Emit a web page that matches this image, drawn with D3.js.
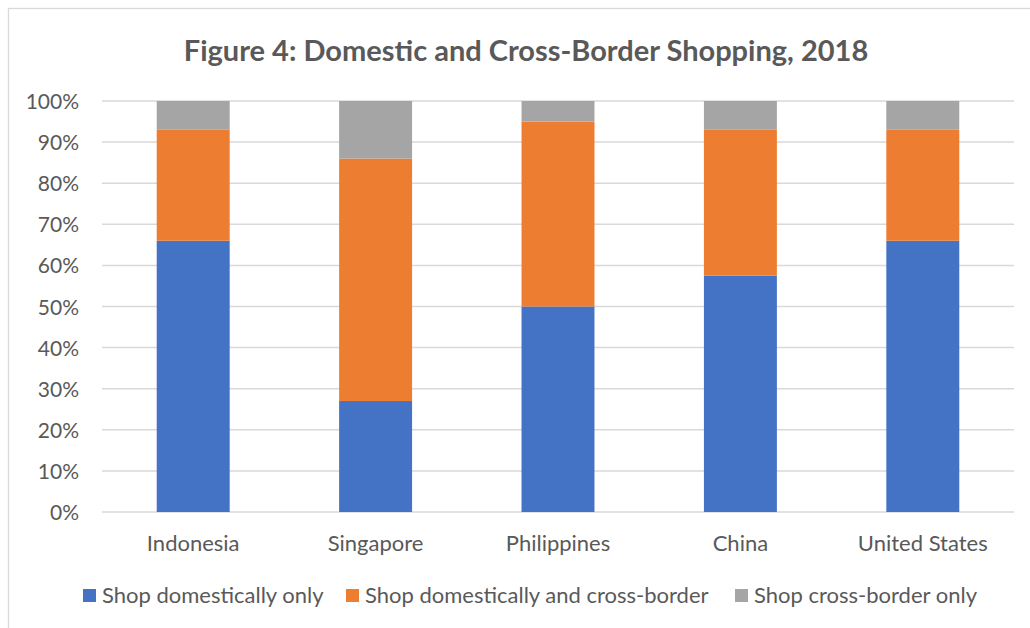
<!DOCTYPE html>
<html>
<head>
<meta charset="utf-8">
<script src="https://cdn.jsdelivr.net/npm/d3@7"></script>
<style>
  body { margin: 0; background: #fff; }
  svg { display: block; font-family: Lato, "Open Sans", sans-serif; }
</style>
</head>
<body>
<div id="chart"></div>
<script>
// data (percent of shoppers)
const categories = ["Indonesia", "Singapore", "Philippines", "China", "United States"];
const seriesNames = ["Shop domestically only", "Shop domestically and cross-border", "Shop cross-border only"];
const domesticOnly = [66, 27, 50, 57.5, 66];
const domesticAndCross = [27, 59, 45, 35.5, 27];
const crossOnly = [7, 14, 5, 7, 7];
const yTicks = [0, 10, 20, 30, 40, 50, 60, 70, 80, 90, 100];
const colors = ["#4472C4", "#ED7D31", "#A5A5A5"];

const width = 1030, height = 628;
const margin = {top: 101, right: 16, bottom: 116, left: 102};

const svg = d3.select('#chart').append('svg')
  .attr('width', width)
  .attr('height', height);

// chart border (runs off the right/bottom edge in the original)
svg.append('rect')
  .attr('x', 8.5).attr('y', 8.5)
  .attr('width', width + 20).attr('height', height + 20)
  .attr('fill', '#fff')
  .attr('stroke', '#d9d9d9')
  .attr('stroke-width', 1.3);

// title
svg.append('text')
  .attr('x', 526).attr('y', 61)
  .attr('text-anchor', 'middle')
  .attr('font-size', 29)
  .attr('font-weight', 'bold')
  .attr('fill', '#595959')
  .text('Figure 4: Domestic and Cross-Border Shopping, 2018');

const rows = categories.map((c, i) => ({
  cat: c,
  s0: domesticOnly[i],
  s1: domesticAndCross[i],
  s2: crossOnly[i]
}));
const stacked = d3.stack().keys(['s0', 's1', 's2'])(rows);

const x = d3.scaleBand()
  .domain(categories)
  .range([margin.left, width - margin.right])
  .paddingInner(0.6)
  .paddingOuter(0.3);

const y = d3.scaleLinear()
  .domain([0, 100])
  .range([height - margin.bottom, margin.top]);

// gridlines
svg.append('g')
  .selectAll('line')
  .data(yTicks)
  .join('line')
  .attr('x1', margin.left)
  .attr('x2', width - margin.right)
  .attr('y1', d => y(d))
  .attr('y2', d => y(d))
  .attr('stroke', '#d9d9d9')
  .attr('stroke-width', 1.5);

// y axis labels
const yAxis = svg.append('g')
  .attr('transform', `translate(${margin.left - 23},0)`)
  .call(d3.axisLeft(y).tickValues(yTicks).tickFormat(d => d + '%').tickSize(0).tickPadding(0));
yAxis.select('.domain').remove();
yAxis.selectAll('text')
  .attr('font-family', 'Lato, "Open Sans", sans-serif')
  .attr('font-size', 21)
  .attr('fill', '#595959')
  .attr('dy', '0.36em');

// bars
svg.append('g')
  .selectAll('g')
  .data(stacked)
  .join('g')
  .attr('fill', (d, i) => colors[i])
  .selectAll('rect')
  .data(d => d)
  .join('rect')
  .attr('x', d => x(d.data.cat))
  .attr('y', d => y(d[1]))
  .attr('height', d => y(d[0]) - y(d[1]))
  .attr('width', x.bandwidth());

// x axis labels
const xAxis = svg.append('g')
  .attr('transform', `translate(0,${height - margin.bottom})`)
  .call(d3.axisBottom(x).tickSize(0).tickPadding(0));
xAxis.select('.domain').remove();
xAxis.selectAll('text')
  .attr('font-family', 'Lato, "Open Sans", sans-serif')
  .attr('font-size', 22)
  .attr('fill', '#595959')
  .attr('y', 39)
  .attr('dy', 0);

// legend
const legend = svg.append('g');
const legendX = [83, 346, 735];
seriesNames.forEach((name, i) => {
  const g = legend.append('g').attr('transform', `translate(${legendX[i]},589)`);
  g.append('rect')
    .attr('width', 13).attr('height', 13)
    .attr('fill', colors[i]);
  g.append('text')
    .attr('x', 19).attr('y', 14)
    .attr('font-size', 22)
    .attr('fill', '#595959')
    .text(name);
});
</script>
</body>
</html>
